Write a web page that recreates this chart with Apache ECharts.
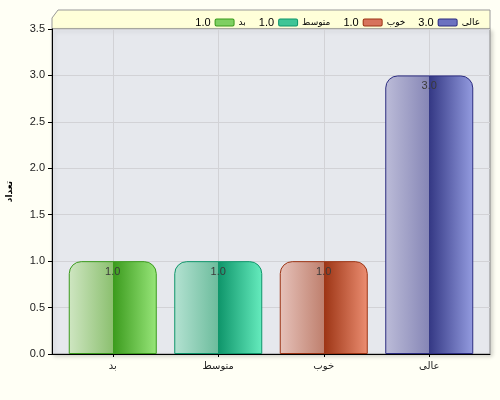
<!DOCTYPE html>
<html><head><meta charset="utf-8">
<script src="https://cdn.jsdelivr.net/npm/echarts@6/dist/echarts.min.js"></script>
<style>html,body{margin:0;padding:0;background:#fffff5;}#c{width:500px;height:400px;}</style>
</head><body><div id="c"></div>
<script>
var categories = ['بد', 'متوسط', 'خوب', 'عالی'];
var values = [1.0, 1.0, 1.0, 3.0];
var yTicks = [0, 0.5, 1.0, 1.5, 2.0, 2.5, 3.0, 3.5];
var yTitle = 'تعداد';

var palettes = [
  {l0:'#cfe6c2', l1:'#8cc070', d0:'#3a9a1c', d1:'#98e67a', border:'#3a9a1c', sw:'#7fcf62'},
  {l0:'#b4e2d2', l1:'#6cbc9c', d0:'#0e956a', d1:'#66ecbe', border:'#0e956a', sw:'#3fc596'},
  {l0:'#e6c2ba', l1:'#bf806e', d0:'#9c3414', d1:'#ec8e72', border:'#9c3414', sw:'#d7735c'},
  {l0:'#bcbcd8', l1:'#8686b6', d0:'#343884', d1:'#949ce0', border:'#2c2c80', sw:'#6c72c0'}
];

var FONT = 'Liberation Sans, DejaVu Sans, sans-serif';
var chart = echarts.init(document.getElementById('c'));
var rich = {
  v: {fontSize: 11, fontFamily: FONT, color: '#000', padding: [0, 5, 0, 0]},
  n: {fontSize: 9, fontFamily: FONT, color: '#000', padding: [0, 0, 0, 5]}
};
palettes.forEach(function (p, i) {
  rich['s' + i] = {width: 18, height: 6, backgroundColor: p.sw, borderColor: p.border, borderWidth: 1, borderRadius: 1};
});

var series = categories.map(function (name, i) {
  var p = palettes[i];
  var data = categories.map(function (c, j) { return j === i ? values[j] : '-'; });
  return {
    name: name,
    type: 'bar',
    stack: 'all',
    xAxisIndex: 1,
    yAxisIndex: 1,
    barWidth: 88,
    data: data,
    itemStyle: {
      color: new echarts.graphic.LinearGradient(0, 0, 1, 0, [
        {offset: 0, color: p.l0},
        {offset: 0.5, color: p.l1},
        {offset: 0.5, color: p.d0},
        {offset: 1, color: p.d1}
      ]),
      borderColor: p.border,
      borderWidth: 1,
      borderRadius: [12, 12, 0, 0]
    },
    label: {
      show: true,
      position: 'insideTop',
      distance: 5,
      color: '#3a3a3a',
      fontSize: 11,
      fontFamily: FONT,
      formatter: function (d) { return Number(d.value).toFixed(1); }
    }
  };
});

var yMin = yTicks[0], yMax = yTicks[yTicks.length - 1];

chart.setOption({
  backgroundColor: '#fffff5',
  animation: false,
  textStyle: {fontFamily: FONT},
  graphic: [{
    type: 'polygon',
    z: -1,
    shape: {points: [[52, 29], [52, 18], [58, 10], [490, 10], [490, 29]]},
    style: {fill: '#ffffd9', stroke: '#999', lineWidth: 1}
  }],
  legend: {
    top: 12,
    right: 15,
    itemWidth: 0,
    itemHeight: 0,
    itemGap: 7,
    selectedMode: false,
    data: categories,
    textStyle: {rich: rich, fontSize: 11, fontFamily: FONT},
    formatter: function (name) {
      var i = categories.indexOf(name);
      return '{v|' + values[i].toFixed(1) + '}{s' + i + '| }{n|' + name + '}';
    }
  },
  grid: [{
    left: 52, right: 10, top: 29, bottom: 46,
    outerBoundsMode: 'none',
    containLabel: false,
    show: true,
    backgroundColor: '#e6e8ed',
    borderColor: '#8a8a8a',
    borderWidth: 1,
    shadowColor: 'rgba(0,0,0,0.18)',
    shadowBlur: 4,
    shadowOffsetX: 2,
    shadowOffsetY: 2
  }, {
    left: 60, right: 18, top: 29, bottom: 46,
    outerBoundsMode: 'none',
    containLabel: false
  }],
  xAxis: [{
    type: 'value',
    gridIndex: 0,
    min: 0, max: 1,
    axisLine: {show: true, onZero: false, lineStyle: {color: '#000', width: 1}},
    axisTick: {show: false},
    axisLabel: {show: false},
    splitLine: {show: false}
  }, {
    type: 'category',
    gridIndex: 1,
    data: categories,
    axisLine: {show: false},
    axisTick: {show: true, alignWithLabel: true, length: 3, lineStyle: {color: '#000'}},
    axisLabel: {color: '#222', fontSize: 10, margin: 7},
    splitLine: {show: true, alignWithLabel: true, lineStyle: {color: '#d2d2d6'}}
  }],
  yAxis: [{
    type: 'value',
    gridIndex: 0,
    min: yMin,
    max: yMax,
    interval: 0.5,
    name: yTitle,
    nameLocation: 'middle',
    nameGap: 38,
    nameRotate: 90,
    nameTextStyle: {fontSize: 9, fontWeight: 'bold', color: '#000'},
    axisLine: {show: true, lineStyle: {color: '#000', width: 1}},
    axisTick: {show: true, length: 4, lineStyle: {color: '#000'}},
    axisLabel: {color: '#222', fontSize: 11, margin: 7, formatter: function (v) { return v.toFixed(1); }},
    splitLine: {show: true, lineStyle: {color: '#d2d2d6'}}
  }, {
    type: 'value',
    gridIndex: 1,
    min: yMin,
    max: yMax,
    interval: 0.5,
    show: false,
    splitLine: {show: false}
  }],
  series: series
});
</script></body></html>
